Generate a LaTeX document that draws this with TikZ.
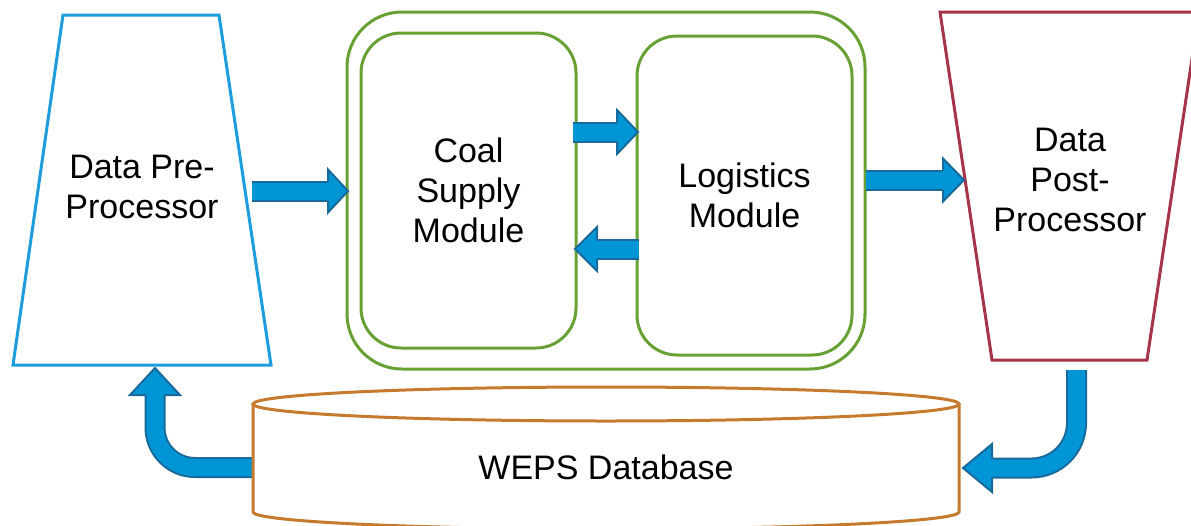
\documentclass[tikz,border=0pt]{standalone}
\usepackage{fontspec}
\setmainfont{Liberation Sans}
\usetikzlibrary{calc}
\definecolor{preblue}{RGB}{27,157,222}
\definecolor{postred}{RGB}{166,52,72}
\definecolor{modgreen}{RGB}{104,161,51}
\definecolor{dborange}{RGB}{198,122,46}
\definecolor{arrowblue}{RGB}{0,150,214}
\definecolor{arrowedge}{RGB}{25,105,155}
\tikzset{
  lbl/.style={font=\fontsize{34}{40}\selectfont, align=center, text=black, inner sep=0pt},
  modbox/.style={draw=modgreen, line width=3pt, rounded corners=40pt, lbl},
  abody/.style={draw=arrowedge, line width=2pt, double=arrowblue, double distance=17pt},
  aedge/.style={draw=arrowedge, line width=2pt, line join=miter},
}
% #1 corner radius, #2 path up to base, #3 base, #4 tip, #5 head half width
\newcommand\barrow[5]{%
  \draw[abody, rounded corners=#1] #2 ($(#3)!2pt!(#4)$);
  \fill[arrowblue] ($(#3)!#5!90:(#4)$) -- (#4) -- ($(#3)!#5!-90:(#4)$) -- cycle;
  \draw[aedge] ($(#3)!9.5pt!90:(#4)$) -- ($(#3)!#5!90:(#4)$) -- (#4) -- ($(#3)!#5!-90:(#4)$) -- ($(#3)!9.5pt!-90:(#4)$);
}
\begin{document}
\begin{tikzpicture}[x=1pt,y=-1pt]
\clip (0,0) rectangle (1191,525);
% Data pre-processor
\draw[preblue, line width=3pt] (63,15) -- (219,15) -- (271,365) -- (13,365) -- cycle;
\node[lbl] (pre) at (142,187) {Data Pre-\\Processor};
% Data post-processor
\draw[postred, line width=3pt] (940,12) -- (1199,12) -- (1147,360) -- (992,360) -- cycle;
\node[lbl] (post) at (1070,180) {Data\\Post-\\Processor};
% modules
\node[draw=modgreen, line width=3pt, rounded corners=55pt, minimum width=518pt, minimum height=357pt] (outer) at (606,190.5) {};
\node[modbox, minimum width=215pt, minimum height=315pt] (coal) at (468.5,190.5) {Coal\\Supply\\Module};
\node[modbox, minimum width=215pt, minimum height=319pt] (log) at (744.5,195.5) {Logistics\\Module};
% arrow coordinates
\coordinate (a1s) at (252,191);  \coordinate (a1b) at (328,191);  \coordinate (a1t) at (348,191);
\coordinate (a2s) at (573,132);  \coordinate (a2b) at (617,132);  \coordinate (a2t) at (638,132);
\coordinate (a3s) at (639,249);  \coordinate (a3b) at (597,249);  \coordinate (a3t) at (575,249);
\coordinate (a4s) at (866,180);  \coordinate (a4b) at (943,180);  \coordinate (a4t) at (964,180);
\coordinate (a5s) at (1076.5,370); \coordinate (a5c) at (1076.5,468); \coordinate (a5b) at (992,468); \coordinate (a5t) at (963,468);
\coordinate (a6s) at (252,467.5); \coordinate (a6c) at (155,467.5); \coordinate (a6b) at (155,395); \coordinate (a6t) at (155,368);
\barrow{0pt}{(a1s) --}{a1b}{a1t}{21.5pt}
\barrow{0pt}{(a2s) --}{a2b}{a2t}{22pt}
\barrow{0pt}{(a3s) --}{a3b}{a3t}{22pt}
\barrow{0pt}{(a4s) --}{a4b}{a4t}{21.5pt}
\barrow{45pt}{(a5s) -- (a5c) --}{a5b}{a5t}{24pt}
\barrow{40pt}{(a6s) -- (a6c) --}{a6b}{a6t}{25pt}
% database
\draw[dborange, line width=3pt] (253,404) -- (253,512) arc (180:0:353 and 17) -- (959,404);
\draw[dborange, line width=3pt] (606,404) ellipse (353 and 17);
\node[lbl] (db) at (606,467) {WEPS Database};
\end{tikzpicture}
\end{document}
